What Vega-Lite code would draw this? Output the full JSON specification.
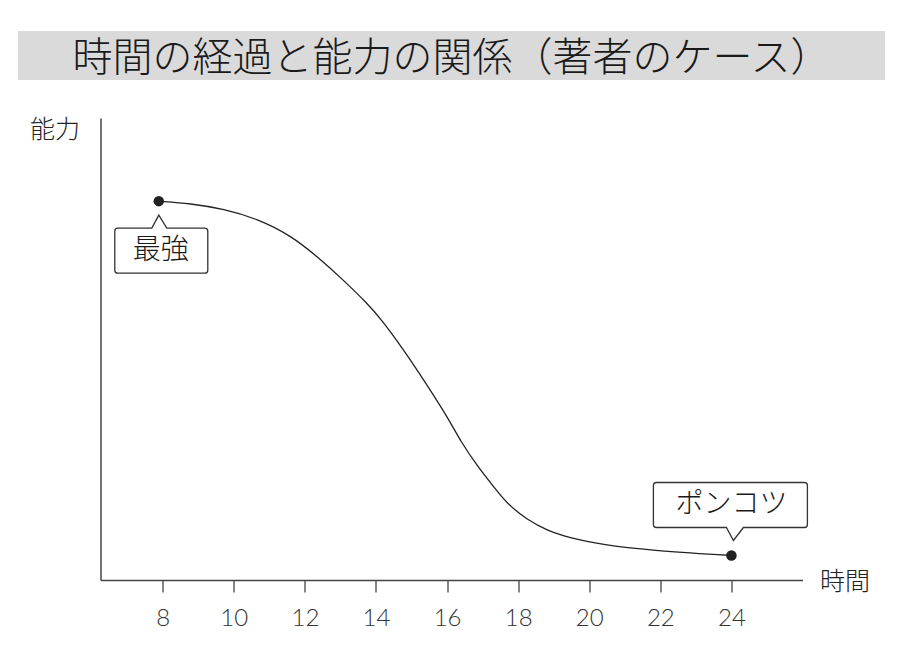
{
  "$schema": "https://vega.github.io/schema/vega-lite/v6.json",
  "background": "white",
  "padding": {"left": 18, "top": 31, "right": 0, "bottom": 0},
  "bounds": "flush",
  "center": true,
  "spacing": 38,
  "config": {
    "view": {"stroke": null},
    "font": "Noto Sans CJK JP"
  },
  "vconcat": [
    {
      "width": 867,
      "height": 49,
      "view": {"fill": "#dadada", "stroke": null},
      "data": {"values": [{"title": "時間の経過と能力の関係（著者のケース）"}]},
      "mark": {"type": "text", "fontSize": 40, "font": "Noto Sans CJK JP", "fontWeight": 300, "color": "#1a1a1a", "baseline": "middle", "align": "center", "dy": 3},
      "encoding": {"text": {"field": "title"}}
    },
    {
      "width": 702,
      "height": 462,
      "data": {
        "values": [
          {"t": 7.89, "v": 82.0, "label": "最強"},
          {"t": 8.78, "v": 81.5},
          {"t": 9.72, "v": 80.3},
          {"t": 10.66, "v": 78.2},
          {"t": 11.6, "v": 74.6},
          {"t": 12.35, "v": 70.0},
          {"t": 13.1, "v": 64.8},
          {"t": 13.75, "v": 59.9},
          {"t": 14.13, "v": 56.6},
          {"t": 14.78, "v": 49.8},
          {"t": 15.25, "v": 44.4},
          {"t": 16.0, "v": 35.5},
          {"t": 16.38, "v": 30.0},
          {"t": 16.85, "v": 24.7},
          {"t": 17.32, "v": 20.1},
          {"t": 17.69, "v": 16.5},
          {"t": 18.26, "v": 13.0},
          {"t": 18.82, "v": 10.7},
          {"t": 19.47, "v": 9.1},
          {"t": 20.32, "v": 7.7},
          {"t": 21.73, "v": 6.4},
          {"t": 24.0, "v": 5.3, "label": "ポンコツ"}
        ]
      },
      "encoding": {
        "x": {
          "field": "t",
          "type": "quantitative",
          "scale": {"domain": [6.25, 26], "nice": false, "zero": false},
          "axis": {
            "values": [8, 10, 12, 14, 16, 18, 20, 22, 24],
            "title": "時間",
            "titleX": 744,
            "titleY": 1,
            "titleAlign": "center",
            "titleBaseline": "middle",
            "titleFontSize": 25,
            "titleFontWeight": 300,
            "titleColor": "#222",
            "titleFont": "Noto Sans CJK JP",
            "tickSize": 12,
            "tickColor": "#444",
            "tickWidth": 1.3,
            "domainColor": "#444",
            "domainWidth": 1.5,
            "labelFontSize": 24,
            "labelPadding": 14,
            "labelColor": "#333",
            "labelFont": "Lato",
            "labelFontWeight": 300,
            "labelFlush": false,
            "grid": false
          }
        },
        "y": {
          "field": "v",
          "type": "quantitative",
          "scale": {"domain": [0, 100], "nice": false},
          "axis": {
            "title": "能力",
            "titleAngle": 0,
            "titleX": -46,
            "titleY": 11,
            "titleAlign": "center",
            "titleBaseline": "middle",
            "titleFontSize": 25,
            "titleFontWeight": 300,
            "titleColor": "#222",
            "titleFont": "Noto Sans CJK JP",
            "labels": false,
            "ticks": false,
            "grid": false,
            "domainColor": "#444",
            "domainWidth": 1.5
          }
        }
      },
      "layer": [
        {
          "mark": {"type": "line", "interpolate": "basis", "color": "#222", "strokeWidth": 1.3}
        },
        {
          "transform": [{"filter": {"field": "label", "equal": "最強"}}],
          "mark": {
            "type": "point",
            "shape": "M -7 27 L 0 14 L 8 27 L 46 27 Q 49 27 49 30 L 49 69 Q 49 72 46 72 L -41 72 Q -44 72 -44 69 L -44 30 Q -44 27 -41 27 Z",
            "size": 4,
            "fill": "white",
            "stroke": "#333",
            "strokeWidth": 1.3,
            "opacity": 1,
            "fillOpacity": 1
          }
        },
        {
          "transform": [{"filter": {"field": "label", "equal": "ポンコツ"}}],
          "mark": {
            "type": "point",
            "shape": "M 12 -28 L 2 -15 L -5 -28 L -75 -28 Q -78 -28 -78 -31 L -78 -70 Q -78 -73 -75 -73 L 73 -73 Q 76 -73 76 -70 L 76 -31 Q 76 -28 73 -28 Z",
            "size": 4,
            "fill": "white",
            "stroke": "#333",
            "strokeWidth": 1.3,
            "opacity": 1,
            "fillOpacity": 1
          }
        },
        {
          "transform": [{"filter": "datum.label != null"}],
          "mark": {"type": "circle", "size": 110, "color": "#222", "opacity": 1}
        },
        {
          "transform": [{"filter": {"field": "label", "equal": "最強"}}],
          "mark": {"type": "text", "fontSize": 28, "font": "Noto Sans CJK JP", "fontWeight": 300, "color": "#1a1a1a", "dx": 2, "dy": 50, "baseline": "middle", "align": "center"},
          "encoding": {"text": {"field": "label"}}
        },
        {
          "transform": [{"filter": {"field": "label", "equal": "ポンコツ"}}],
          "mark": {"type": "text", "fontSize": 28, "font": "Noto Sans CJK JP", "fontWeight": 300, "color": "#1a1a1a", "dx": 0, "dy": -51, "baseline": "middle", "align": "center"},
          "encoding": {"text": {"field": "label"}}
        }
      ]
    }
  ]
}
